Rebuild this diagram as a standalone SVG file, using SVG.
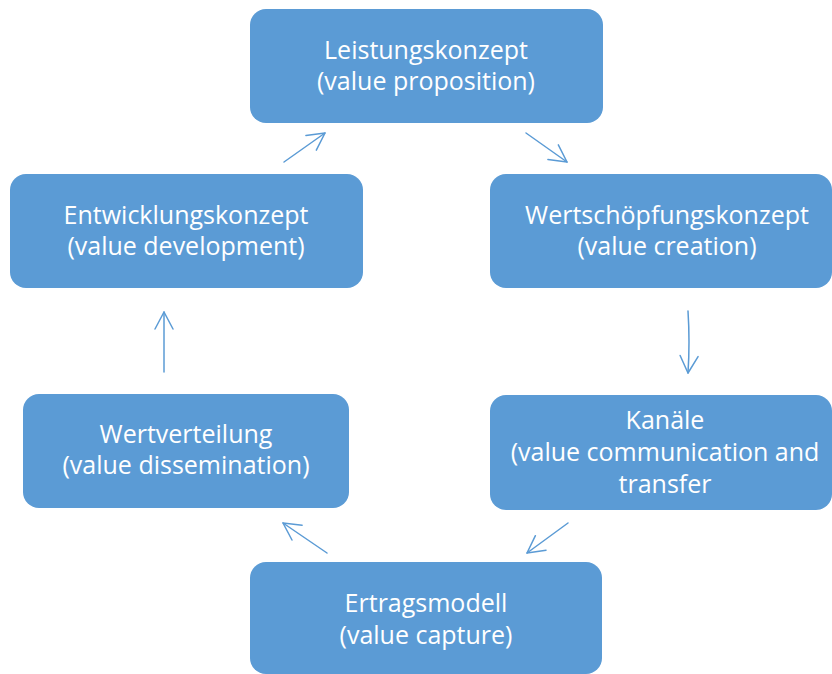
<svg xmlns="http://www.w3.org/2000/svg" width="832" height="674" viewBox="0 0 832 674">
  <defs>
    <!-- open chevron arrowhead -->
    <marker id="head" markerUnits="userSpaceOnUse" markerWidth="40" markerHeight="40" viewBox="-20 -20 40 40" refX="0" refY="0" orient="auto" overflow="visible">
      <path d="M-17,-9 L0,0 L-17,9" fill="none" stroke="#5B9BD5" stroke-width="1.5" stroke-linecap="round" stroke-linejoin="round"/>
    </marker>
  </defs>
  <style>
    .box { fill: #5B9BD5; }
    .lbl { fill: #FFFFFF; font-family: "Open Sans", "Liberation Sans", sans-serif; font-size: 25px; text-anchor: middle; }
    .conn { fill: none; stroke: #5B9BD5; stroke-width: 1.5; stroke-linecap: round; marker-end: url(#head); }
  </style>
  <rect width="832" height="674" fill="#FFFFFF"/>

  <g id="leistungskonzept">
    <rect class="box" x="250" y="9" width="353" height="114" rx="16"/>
    <text class="lbl" x="426" y="59">Leistungskonzept</text>
    <text class="lbl" x="426" y="90">(value proposition)</text>
  </g>

  <g id="wertschoepfungskonzept">
    <rect class="box" x="490" y="174" width="342" height="114" rx="16"/>
    <text class="lbl" x="667" y="224">Wertschöpfungskonzept</text>
    <text class="lbl" x="667" y="255">(value creation)</text>
  </g>

  <g id="kanaele">
    <rect class="box" x="490" y="395" width="342" height="115" rx="16"/>
    <text class="lbl" x="665" y="429">Kanäle</text>
    <text class="lbl" x="665" y="461">(value communication and</text>
    <text class="lbl" x="665" y="493">transfer</text>
  </g>

  <g id="ertragsmodell">
    <rect class="box" x="250" y="562" width="352" height="112" rx="16"/>
    <text class="lbl" x="426" y="612">Ertragsmodell</text>
    <text class="lbl" x="426" y="644">(value capture)</text>
  </g>

  <g id="wertverteilung">
    <rect class="box" x="23" y="394" width="326" height="114" rx="16"/>
    <text class="lbl" x="186" y="443">Wertverteilung</text>
    <text class="lbl" x="186" y="474">(value dissemination)</text>
  </g>

  <g id="entwicklungskonzept">
    <rect class="box" x="10" y="174" width="353" height="114" rx="16"/>
    <text class="lbl" x="186" y="224">Entwicklungskonzept</text>
    <text class="lbl" x="186" y="255">(value development)</text>
  </g>

  <g id="connectors">
    <path class="conn" d="M284,162 L325,133"/>
    <path class="conn" d="M526,133 L567,162"/>
    <path class="conn" d="M688,311 Q690,342 688,373"/>
    <path class="conn" d="M568,523 L527,553"/>
    <path class="conn" d="M327,553 L283,523"/>
    <path class="conn" d="M164,372 L164,312"/>
  </g>
</svg>
